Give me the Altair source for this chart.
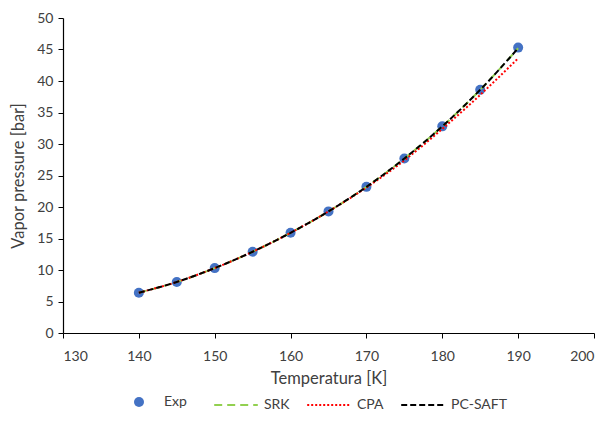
import altair as alt
import pandas as pd

temps = [140, 145, 150, 155, 160, 165, 170, 175, 180, 185, 190]
exp_p = [6.4, 8.1, 10.3, 12.9, 15.9, 19.3, 23.2, 27.7, 32.8, 38.6, 45.3]
srk_p = [6.4, 8.1, 10.3, 12.9, 15.9, 19.3, 23.2, 27.7, 32.8, 38.6, 45.2]
cpa_p = [6.4, 8.1, 10.3, 12.9, 15.9, 19.3, 23.1, 27.4, 32.4, 37.8, 43.6]
pcsaft_p = [6.4, 8.1, 10.3, 12.9, 15.9, 19.3, 23.2, 27.7, 32.8, 38.6, 45.2]

line_names = ["SRK", "CPA", "PC-SAFT"]
line_colors = ["#92D050", "#FF0000", "#000000"]
line_dashes = [[8, 5], [2, 2], [6, 3]]

FONT = "Lato"
TXT = "#404040"

exp_df = pd.DataFrame({"T": temps, "P": exp_p, "s": "Exp"})
rows = []
for name, vals in zip(line_names, [srk_p, cpa_p, pcsaft_p]):
    for t, p in zip(temps, vals):
        rows.append({"T": t, "P": p, "s": name})
lines_df = pd.DataFrame(rows)

xs = alt.Scale(domain=[130, 200], nice=False, zero=False)
ys = alt.Scale(domain=[0, 50], nice=False)
xax = alt.Axis(title="Temperatura [K]", values=list(range(130, 201, 10)), grid=False)
yax = alt.Axis(title="Vapor pressure [bar]", values=list(range(0, 51, 5)), grid=False, labelOverlap=False)

line_legend = alt.Legend(title=None, orient="none", legendX=150, legendY=364,
                         direction="horizontal", symbolType="stroke",
                         symbolSize=1900, symbolStrokeWidth=2.5,
                         columnPadding=13, labelOffset=5)

points = alt.Chart(exp_df).mark_point(filled=True, size=100, opacity=1).encode(
    x=alt.X("T:Q", scale=xs, axis=xax),
    y=alt.Y("P:Q", scale=ys, axis=yax),
    fill=alt.Fill("s:N", scale=alt.Scale(domain=["Exp"], range=["#4472C4"]),
                  legend=alt.Legend(title=None, orient="none", legendX=69, legendY=377,
                                    direction="horizontal", symbolType="circle",
                                    symbolSize=100, labelOffset=18)),
)

lines = alt.Chart(lines_df).mark_line(interpolate="monotone").encode(
    x=alt.X("T:Q", scale=xs, axis=xax),
    y=alt.Y("P:Q", scale=ys, axis=yax),
    color=alt.Color("s:N", scale=alt.Scale(domain=line_names, range=line_colors), legend=line_legend),
    strokeDash=alt.StrokeDash("s:N", scale=alt.Scale(domain=line_names, range=line_dashes), legend=line_legend),
    strokeWidth=alt.StrokeWidth("s:N", scale=alt.Scale(domain=line_names, range=[2, 2, 2.5]), legend=None),
)

chart = alt.layer(points, lines).properties(
    width=531, height=315,
    background="white",
    autosize=alt.AutoSizeParams(type="none"),
    padding={"left": 55, "top": 10, "right": 5, "bottom": 95},
).configure_view(stroke=None).configure_axis(
    domainColor="#000000", tickColor="#000000", domainWidth=1.2, tickSize=5,
    labelFont=FONT, titleFont=FONT, labelFontSize=14, titleFontSize=16.5,
    labelColor=TXT, titleColor=TXT, titleFontWeight="normal",
).configure_axisX(titlePadding=7, labelPadding=11).configure_axisY(titlePadding=10, labelPadding=5).configure_legend(
    labelFont=FONT, labelFontSize=14, labelColor=TXT, padding=0,
)

chart.save("out.html", embed_options={"renderer": "svg", "actions": False})
